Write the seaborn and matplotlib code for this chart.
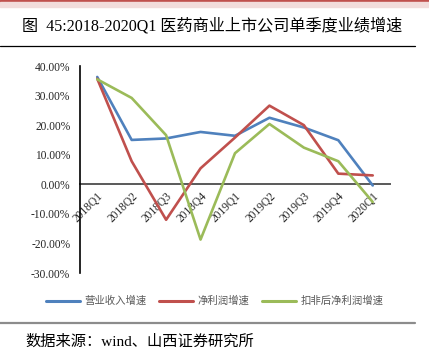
import numpy as np
import pandas as pd
import matplotlib
matplotlib.use("Agg")
import matplotlib.pyplot as plt
from matplotlib.patches import Rectangle
from matplotlib.lines import Line2D
import seaborn as sns

quarters = ["2018Q1", "2018Q2", "2018Q3", "2018Q4", "2019Q1",
            "2019Q2", "2019Q3", "2019Q4", "2020Q1"]
revenue = [36.3, 15.0, 15.5, 17.7, 16.4, 22.5, 19.2, 14.9, -0.4]
net_profit = [35.7, 7.8, -12.0, 5.4, 15.8, 26.6, 20.0, 3.6, 3.0]
net_profit_ex = [35.5, 29.2, 16.6, -18.7, 10.5, 20.4, 12.4, 7.8, -6.0]
series_names = ["营业收入增速", "净利润增速", "扣非后净利润增速"]
colors = ["#4F81BD", "#C0504D", "#9BBB59"]
yticks = [-0.3, -0.2, -0.1, 0.0, 0.1, 0.2, 0.3, 0.4]

rows = []
for name, vals in zip(series_names, [revenue, net_profit, net_profit_ex]):
    for i, (q, v) in enumerate(zip(quarters, vals)):
        rows.append({"pos": i, "quarter": q, "value": v / 100.0, "series": name})
df = pd.DataFrame(rows)

sns.set_style("white")
plt.rcParams["font.family"] = ["Liberation Serif", "Noto Sans CJK SC"]

fig = plt.figure(figsize=(4.29, 3.5), dpi=100)
ax = fig.add_axes([0.1865, 0.22, 0.7225, 0.5914])

sns.lineplot(data=df, x="pos", y="value", hue="series", hue_order=series_names,
             palette=colors, linewidth=1.9, ax=ax, legend=False, sort=False)

for s in ["top", "right"]:
    ax.spines[s].set_visible(False)
ax.spines["left"].set_color("black")
ax.spines["left"].set_linewidth(1.2)
ax.spines["bottom"].set_position(("data", 0))
ax.spines["bottom"].set_color("#595959")
ax.spines["bottom"].set_linewidth(1.4)
ax.spines["bottom"].set_zorder(1)

ax.set_xlim(-0.5, len(quarters) - 0.5)
ax.set_ylim(-0.3, 0.4)
ax.set_yticks(yticks)
ax.set_yticklabels([f"{t*100:.2f}%" for t in yticks], fontsize=8.3,
                   family="Liberation Serif")
ax.set_xticks(range(len(quarters)))
ax.set_xticklabels(quarters, rotation=45, ha="right", rotation_mode="anchor",
                   fontsize=8.3, family="Liberation Serif")
ax.tick_params(axis="both", length=0)
ax.tick_params(axis="y", pad=7)
ax.tick_params(axis="x", pad=4)
ax.set_xlabel("")
ax.set_ylabel("")

# legend
handles = [Line2D([0], [0], color=c, lw=2.2) for c in colors]
fig.legend(handles, series_names, loc="center", bbox_to_anchor=(0.5, 1 - 301 / 350),
           ncol=3, frameon=False, handlelength=3.3,
           columnspacing=1.2, handletextpad=0.4,
           prop={"family": ["Noto Sans CJK SC"], "size": 7.5},
           labelcolor="#595959")

# decorations
fig.patches.append(Rectangle((0, 1 - 2.5 / 350), 1, 2.5 / 350, transform=fig.transFigure,
                             color="#C0504D", zorder=0))
fig.patches.append(Rectangle((0, 1 - 7 / 350), 1, 4.5 / 350, transform=fig.transFigure,
                             color="#F2DCDB", zorder=0))
fig.add_artist(Line2D([0, 415 / 429], [1 - 46 / 350] * 2, transform=fig.transFigure,
                      color="black", lw=0.9))
fig.add_artist(Line2D([0, 415 / 429], [1 - 323 / 350] * 2, transform=fig.transFigure,
                      color="#8C8C8C", lw=1.6))

fig.text(22 / 429, 1 - 26 / 350, "图  45:2018-2020Q1 医药商业上市公司单季度业绩增速",
         fontsize=11.6, va="center", ha="left", color="black")
fig.text(25 / 429, 1 - 342 / 350, "数据来源：wind、山西证券研究所",
         fontsize=11, va="center", ha="left", color="black")

fig.savefig("out.png", dpi=100)
